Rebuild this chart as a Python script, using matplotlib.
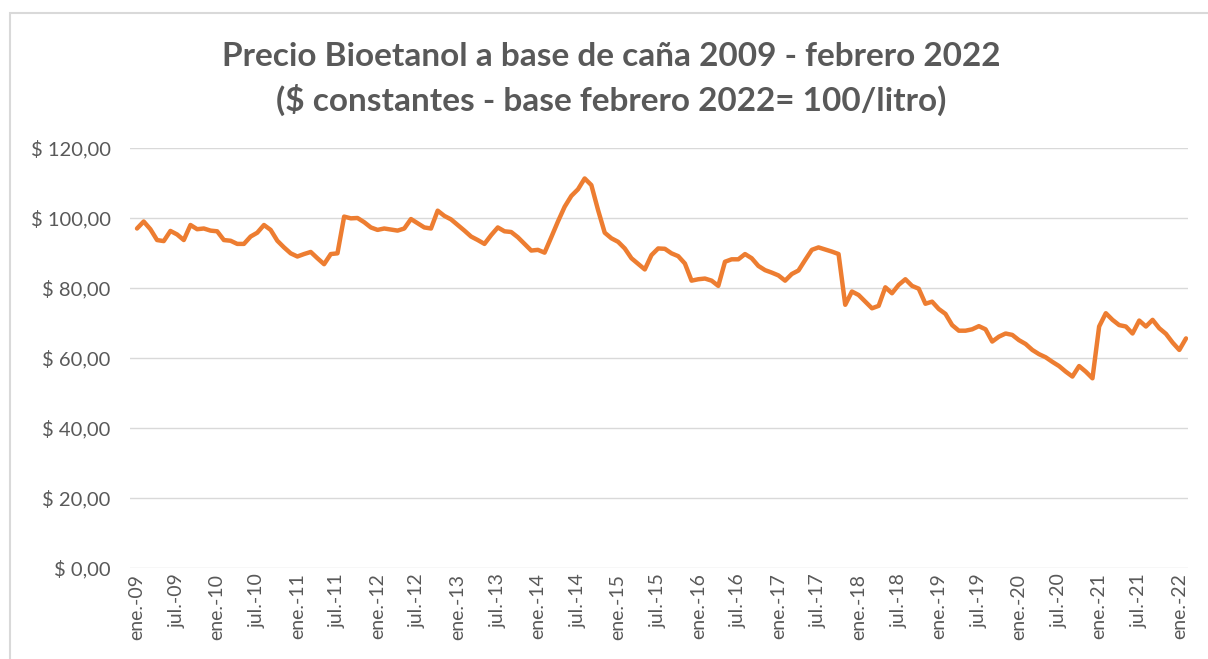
import matplotlib.pyplot as plt
from matplotlib.patches import Rectangle

# Monthly price, ene-09 .. feb-22 (constant $, base feb 2022 = 100/litro)
precio = [
    97.0, 99.0, 96.8, 93.7, 93.4, 96.3, 95.3, 93.7, 98.0, 96.8, 97.0, 96.4,   # 2009
    96.2, 93.7, 93.5, 92.6, 92.6, 94.7, 95.8, 98.0, 96.6, 93.5, 91.6, 89.9,   # 2010
    89.0, 89.7, 90.3, 88.5, 86.8, 89.7, 89.9, 100.4, 99.9, 100.0, 98.8, 97.3,  # 2011
    96.6, 97.0, 96.7, 96.4, 97.0, 99.7, 98.5, 97.3, 97.0, 102.1, 100.6, 99.6,  # 2012
    98.0, 96.4, 94.7, 93.7, 92.6, 95.1, 97.3, 96.2, 96.0, 94.5, 92.6, 90.7,   # 2013
    90.9, 90.1, 94.5, 99.0, 103.2, 106.3, 108.2, 111.3, 109.4, 102.3, 95.8, 94.2,  # 2014
    93.2, 91.3, 88.5, 86.9, 85.3, 89.4, 91.3, 91.2, 89.9, 89.1, 87.0, 82.1,   # 2015
    82.5, 82.7, 82.1, 80.6, 87.5, 88.2, 88.2, 89.7, 88.5, 86.3, 85.1, 84.4,   # 2016
    83.6, 82.1, 84.0, 85.0, 88.0, 90.9, 91.6, 91.0, 90.4, 89.7, 75.2, 79.0,   # 2017
    78.0, 76.1, 74.2, 74.9, 80.2, 78.5, 80.9, 82.5, 80.6, 79.8, 75.5, 76.1,   # 2018
    74.0, 72.6, 69.4, 67.8, 67.8, 68.2, 69.1, 68.2, 64.7, 66.1, 67.0, 66.6,   # 2019
    65.1, 64.0, 62.3, 61.1, 60.2, 58.9, 57.7, 56.1, 54.7, 57.7, 56.1, 54.2,   # 2020
    69.0, 72.8, 70.9, 69.4, 69.0, 67.0, 70.7, 69.0, 70.9, 68.5, 66.9, 64.4,   # 2021
    62.3, 65.6,                                                               # 2022
]

years = list(range(9, 23))
tick_labels = []
for y in years:
    tick_labels.append(f"ene.-{y:02d}")
    if y < 22:
        tick_labels.append(f"jul.-{y:02d}")

y_ticks = [0, 20, 40, 60, 80, 100, 120]

TXT = "#595959"
plt.rcParams['font.family'] = ['Lato', 'DejaVu Sans']

W, H = 1208, 659
fig = plt.figure(figsize=(W / 100, H / 100), dpi=100)

# chart-area border
fig.patches.append(Rectangle((10 / W, -0.05), 1.1, 1 - 13 / H + 0.05,
                             transform=fig.transFigure, fill=False,
                             edgecolor="#D9D9D9", linewidth=1.5))

ax = fig.add_axes([130 / W, 1 - 568 / H, (1188 - 130) / W, 420 / H])

months = list(range(len(precio)))
ax.plot(months, precio, color="#ED7D31", linewidth=3.2, solid_joinstyle="round",
        solid_capstyle="round")

ax.set_ylim(0, 120)
ax.set_xlim(-1.05, 157.3)
ax.set_yticks(y_ticks)
ax.set_yticklabels(["$ " + f"{v:.2f}".replace(".", ",") for v in y_ticks])
ax.set_xticks(range(0, 6 * len(tick_labels), 6))
ax.set_xticklabels(tick_labels, rotation=90)

ax.grid(axis="y", color="#D9D9D9", linewidth=1)
ax.set_axisbelow(True)
for s in ax.spines.values():
    s.set_visible(False)
ax.tick_params(axis="both", length=0, colors=TXT)
ax.tick_params(axis="y", pad=14, labelsize=14.5)
ax.tick_params(axis="x", pad=4, labelsize=14)

fig.text(0.506, 1 - 57 / H, "Precio Bioetanol a base de caña 2009 - febrero 2022",
         ha="center", va="center", fontsize=24, fontweight="bold", color=TXT)
fig.text(0.506, 1 - 100 / H, "($ constantes - base febrero 2022= 100/litro)",
         ha="center", va="center", fontsize=24, fontweight="bold", color=TXT)

fig.savefig("out.png", dpi=100)
